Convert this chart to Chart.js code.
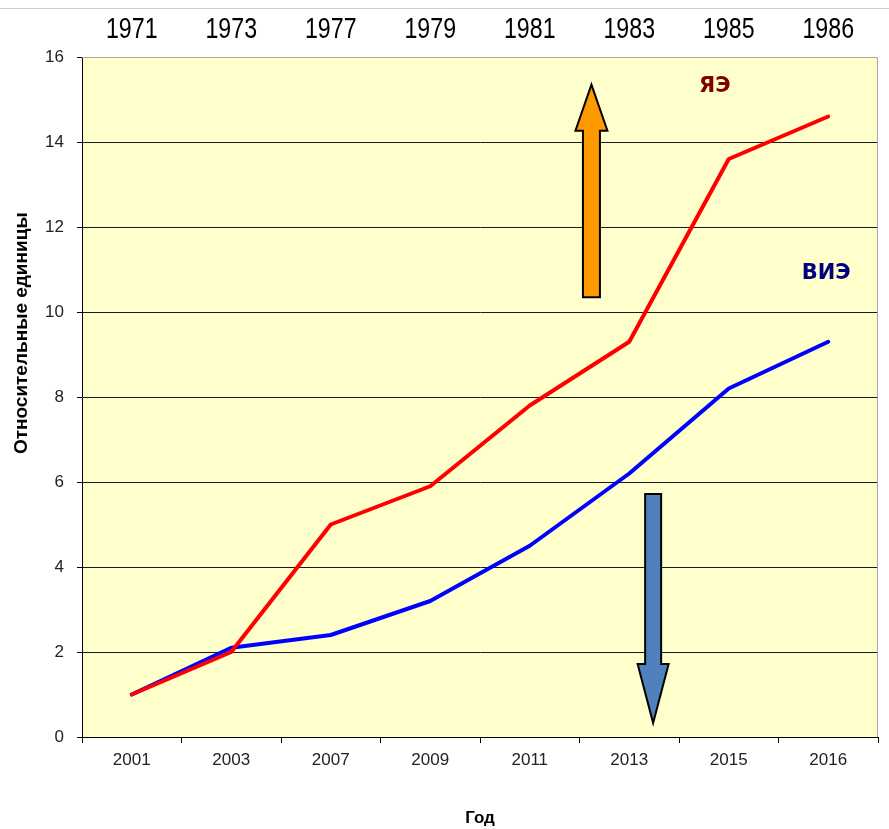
<!DOCTYPE html>
<html lang="ru">
<head>
<meta charset="utf-8">
<title>Относительные единицы</title>
<script src="https://cdn.jsdelivr.net/npm/chart.js@4.4.1/dist/chart.umd.min.js"></script>
<style>
    html, body { margin: 0; padding: 0; background: #ffffff; }
    #wrap { position: relative; width: 889px; height: 829px; }
</style>
</head>
<body>
<div id="wrap"><canvas id="energyChart"></canvas></div>
<script>
/* ==================== DATA ==================== */

// Bottom axis years and the matching years along the top
const YEARS = ['2001', '2003', '2007', '2009', '2011', '2013', '2015', '2016'];
const TOP_YEARS = ['1971', '1973', '1977', '1979', '1981', '1983', '1985', '1986'];

// Series, relative units
const NUCLEAR = [1, 2, 5, 5.9, 7.8, 9.3, 13.6, 14.6];      // ЯЭ
const RENEWABLE = [1, 2.1, 2.4, 3.2, 4.5, 6.2, 8.2, 9.3];  // ВИЭ

const Y_TICKS = [0, 2, 4, 6, 8, 10, 12, 14, 16];

/* ==================== DECORATION PLUGIN ==================== */

// Background, frame, top year row, arrows and series captions
const decorations = {
    id: 'decorations',
    beforeDraw(chart) {
        const { ctx, chartArea: a } = chart;
        ctx.save();
        ctx.fillStyle = '#ffffcc';
        ctx.fillRect(a.left, a.top, a.right - a.left, a.bottom - a.top);
        ctx.restore();
    },
    afterDraw(chart) {
        const { ctx, chartArea: a, scales } = chart;
        const x = scales.x, y = scales.y, top = scales.xTop;
        const px = v => x.getPixelForValue(0) + v * (x.getPixelForValue(1) - x.getPixelForValue(0));

        ctx.save();

        // thin rule along the top of the picture
        ctx.strokeStyle = '#cfcfcf';
        ctx.lineWidth = 1;
        ctx.beginPath();
        ctx.moveTo(0, 8.5);
        ctx.lineTo(chart.width, 8.5);
        ctx.stroke();

        // plot frame: top and right edges
        ctx.strokeStyle = '#a8a8a0';
        ctx.beginPath();
        ctx.moveTo(a.left, a.top + 0.5);
        ctx.lineTo(a.right - 0.5, a.top + 0.5);
        ctx.lineTo(a.right - 0.5, a.bottom);
        ctx.stroke();

        // top year row, in a narrow face (Arial metrics squeezed horizontally)
        ctx.font = '29px "Liberation Sans", Arial, sans-serif';
        ctx.fillStyle = '#000000';
        ctx.textAlign = 'center';
        ctx.textBaseline = 'middle';
        TOP_YEARS.forEach((label, i) => {
            ctx.save();
            ctx.translate(top.getPixelForTick(i), 30);
            ctx.scale(0.8, 1);
            ctx.fillText(label, 0, 0);
            ctx.restore();
        });

        // block arrows
        drawArrow(ctx, px(4.62), y.getPixelForValue(10.35), y.getPixelForValue(15.35), 17, 32, 46, '#ff9900');
        drawArrow(ctx, px(5.24), y.getPixelForValue(5.72), y.getPixelForValue(0.33), 16, 31, 59, '#4f81bd');

        // series captions
        ctx.font = 'bold 21px "DejaVu Sans", sans-serif';
        ctx.textAlign = 'center';
        ctx.textBaseline = 'middle';
        ctx.fillStyle = '#800000';
        ctx.fillText('ЯЭ', px(5.86), y.getPixelForValue(15.3));
        ctx.fillStyle = '#000080';
        ctx.fillText('ВИЭ', px(6.98), y.getPixelForValue(10.9));

        // vertical axis title
        ctx.font = 'bold 19px "Liberation Sans", Arial, sans-serif';
        ctx.fillStyle = '#000000';
        ctx.translate(22, y.getPixelForValue(9.5));
        ctx.rotate(-Math.PI / 2);
        ctx.fillText('Относительные единицы', 0, 0);

        ctx.restore();
    }
};

// Block arrow from tail (y0) to tip (y1), with shaft width, head width and head length
function drawArrow(ctx, cx, y0, y1, shaft, head, headLen, fill) {
    const dir = y1 < y0 ? -1 : 1;
    const base = y1 - dir * headLen;
    ctx.beginPath();
    ctx.moveTo(cx - shaft / 2, y0);
    ctx.lineTo(cx - shaft / 2, base);
    ctx.lineTo(cx - head / 2, base);
    ctx.lineTo(cx, y1);
    ctx.lineTo(cx + head / 2, base);
    ctx.lineTo(cx + shaft / 2, base);
    ctx.lineTo(cx + shaft / 2, y0);
    ctx.closePath();
    ctx.fillStyle = fill;
    ctx.fill();
    ctx.lineWidth = 2;
    ctx.lineJoin = 'miter';
    ctx.strokeStyle = '#000000';
    ctx.stroke();
}

/* ==================== CHART ==================== */

const tickFont = { family: '"Liberation Sans", Arial, sans-serif', size: 17 };

new Chart(document.getElementById('energyChart').getContext('2d'), {
    type: 'line',
    data: {
        labels: YEARS,
        datasets: [
            {
                label: 'ЯЭ',
                data: NUCLEAR,
                borderColor: '#ff0000',
                borderWidth: 4,
                borderCapStyle: 'round',
                borderJoinStyle: 'round',
                pointRadius: 0,
                tension: 0,
                fill: false
            },
            {
                label: 'ВИЭ',
                data: RENEWABLE,
                borderColor: '#0000ff',
                borderWidth: 4,
                borderCapStyle: 'round',
                borderJoinStyle: 'round',
                pointRadius: 0,
                tension: 0,
                fill: false
            }
        ]
    },
    options: {
        responsive: true,
        maintainAspectRatio: false,
        animation: false,
        layout: { padding: { left: 0, right: 11, top: 0, bottom: 0 } },
        plugins: {
            legend: { display: false },
            tooltip: { enabled: false }
        },
        scales: {
            x: {
                type: 'category',
                position: 'bottom',
                offset: true,
                afterFit: scale => { scale.height = 92; },
                border: { display: true, color: '#000000', width: 1 },
                grid: {
                    offset: true,
                    drawOnChartArea: false,
                    drawTicks: true,
                    tickLength: 6,
                    tickColor: '#000000'
                },
                ticks: { color: '#222222', font: tickFont, padding: 7, maxRotation: 0 },
                title: {
                    display: true,
                    text: 'Год',
                    color: '#000000',
                    font: { family: '"Liberation Sans", Arial, sans-serif', size: 17, weight: 'bold' },
                    padding: { top: 0, bottom: 0 }
                }
            },
            // top row of years; its labels are painted by the plugin above
            xTop: {
                type: 'category',
                position: 'top',
                labels: TOP_YEARS,
                offset: true,
                afterFit: scale => { scale.height = 57; },
                border: { display: false },
                grid: { display: false },
                ticks: { display: false }
            },
            y: {
                min: 0,
                max: 16,
                afterFit: scale => { scale.width = 82; },
                afterBuildTicks: scale => { scale.ticks = Y_TICKS.map(v => ({ value: v })); },
                border: { display: true, color: '#000000', width: 1 },
                grid: {
                    color: ctx => (ctx.tick && ctx.tick.value === 16 ? 'rgba(0,0,0,0)' : '#1a1a1a'),
                    tickColor: '#000000',
                    tickLength: 5,
                    lineWidth: 1
                },
                ticks: { color: '#222222', font: tickFont, padding: 13 }
            }
        }
    },
    plugins: [decorations]
});
</script>
</body>
</html>
